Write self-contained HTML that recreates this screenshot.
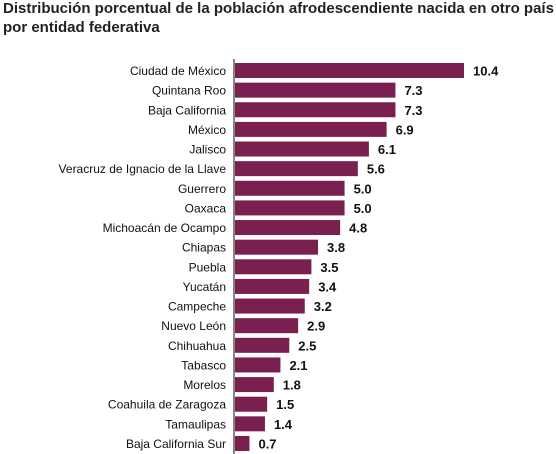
<!DOCTYPE html>
<html><head><meta charset="utf-8"><style>
body{margin:0;background:#fff;width:556px;height:454px;overflow:hidden;font-family:"Liberation Sans",sans-serif}
h1{position:absolute;left:3px;top:-1px;margin:0;font-size:15px;line-height:19px;font-weight:bold;color:#222}
</style></head><body>
<h1>Distribución porcentual de la población afrodescendiente nacida en otro país<br>por entidad federativa</h1>
<svg id="c" width="556" height="454" style="position:absolute;left:0;top:0"></svg>
<script>
const categories=["Ciudad de México","Quintana Roo","Baja California","México","Jalisco","Veracruz de Ignacio de la Llave","Guerrero","Oaxaca","Michoacán de Ocampo","Chiapas","Puebla","Yucatán","Campeche","Nuevo León","Chihuahua","Tabasco","Morelos","Coahuila de Zaragoza","Tamaulipas","Baja California Sur"];
const values=[10.4,7.3,7.3,6.9,6.1,5.6,5.0,5.0,4.8,3.8,3.5,3.4,3.2,2.9,2.5,2.1,1.8,1.5,1.4,0.7];
const labels=["10.4","7.3","7.3","6.9","6.1","5.6","5.0","5.0","4.8","3.8","3.5","3.4","3.2","2.9","2.5","2.1","1.8","1.5","1.4","0.7"];
const svg=document.getElementById('c');const NS="http://www.w3.org/2000/svg";
const x0=234,scale=230/10.4,y0=63,step=19.63,bh=15;
const xs=v=>x0+v*scale, ys=i=>y0+i*step;
function mk(t,a){const e=document.createElementNS(NS,t);for(const k in a)e.setAttribute(k,a[k]);svg.appendChild(e);return e;}
categories.forEach((c,i)=>{
 const r=mk('rect',{x:x0+1,y:ys(i),width:xs(values[i])-x0-1,height:bh,fill:'#7a2050'});
 
 
 const t=mk('text',{x:226,y:ys(i)+bh/2+4.5,'text-anchor':'end','font-size':'12',fill:'#111'});
 t.textContent=c;
 
 
 const v=mk('text',{x:xs(values[i])+9,y:ys(i)+bh/2+5,'font-size':'13','font-weight':'bold',fill:'#111'});
 v.textContent=labels[i];
 
 
});
const ax=mk('line',{x1:x0,x2:x0,y1:59,y2:454,stroke:'#444','stroke-width':1.3});


</script>
</body></html>
